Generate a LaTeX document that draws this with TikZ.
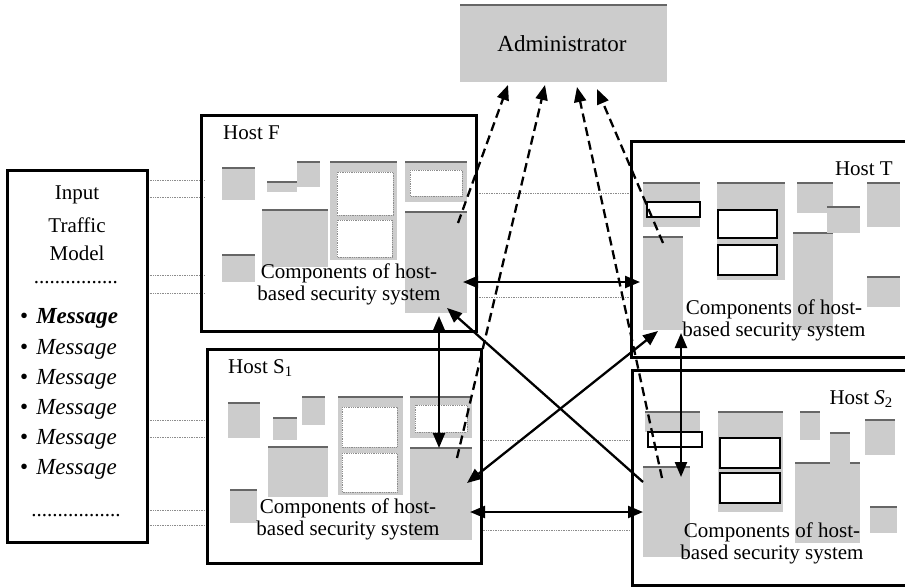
\documentclass[tikz,border=0pt]{standalone}
\usepackage{fontspec}
\setmainfont{Liberation Serif}
\usetikzlibrary{arrows.meta}
\tikzset{
  hostbox/.style={draw=black, line width=3pt, fill=none},
  blk/.style={fill=black!20},
  blktop/.style={draw=black!60, line width=1.2pt},
  win/.style={fill=white, draw=black!45, line width=0.8pt, densely dotted},
  bwin/.style={fill=white, draw=black, line width=2.4pt},
  link/.style={line width=2.3pt, -{Triangle[length=15pt,width=12pt]}},
  dlink/.style={line width=2.3pt, {Triangle[length=15pt,width=12pt]}-{Triangle[length=15pt,width=12pt]}},
  dashlink/.style={line width=2.3pt, dash pattern=on 9pt off 5pt, -{Triangle[length=15pt,width=12pt]}},
  faint/.style={draw=black!45, line width=0.7pt, densely dotted},
  lbl/.style={inner sep=0pt, font=\fontsize{21}{22}\selectfont},
  comp/.style={inner sep=0pt, align=center, font=\fontsize{21}{22}\selectfont},
  msg/.style={inner sep=0pt, anchor=west, font=\fontsize{23}{24}\selectfont}
}
\begin{document}
\begin{tikzpicture}[x=1pt,y=-1pt]
\clip (0,0) rectangle (905,587);
\fill[white] (0,0) rectangle (905,587);

% faint dotted scan lines
\foreach \yy in {180,197,275,293,420,437,510,525} {\draw[faint] (148,\yy) -- (205,\yy);}
\foreach \yy in {193,297} {\draw[faint] (477,\yy) -- (631,\yy);}
\foreach \yy in {440,530} {\draw[faint] (481,\yy) -- (632,\yy);}

% Administrator
\fill[blk] (460,5) rectangle (667,82);
\draw[blktop] (460,5) -- (667,5);
\node[inner sep=0pt, font=\fontsize{23}{24}\selectfont] (admin) at (562,44) {Administrator};

% grey component blocks
\foreach \a/\b/\c/\d in {
  222/168/255/200, 267/182/297/192, 297/162/320/187, 262/210/328/267,
  330/162/397/260, 405/162/467/202, 405/212/467/313, 222/255/255/282,
  228/403/260/438, 273/418/297/440, 302/397/325/425, 268/447/328/497,
  338/397/403/495, 410/397/472/438, 410/448/472/540, 230/490/257/523,
  643/183/700/227, 643/237/683/330, 717/183/785/280, 793/233/833/330,
  797/183/833/213, 827/207/860/233, 867/183/900/227, 867/277/900/307,
  645/412/700/432, 643/467/690/557, 718/412/783/512, 795/463/860/543,
  800/412/820/440, 830/433/850/467, 865/420/895/455, 870/507/897/533}
{\fill[blk] (\a,\b) rectangle (\c,\d); \draw[blktop] (\a,\b) -- (\c,\b);}

% windows
\foreach \a/\b/\c/\d in {337/172/393/215, 337/220/392/257, 410/170/462/196,
  342/407/397/447, 342/453/397/492, 415/405/467/432}
{\draw[win] (\a,\b) rectangle (\c,\d);}
\foreach \a/\b/\c/\d in {647/202/700/217, 718/210/777/238, 718/245/777/275,
  648/432/702/447, 720/438/780/468, 720/473/780/503}
{\draw[bwin] (\a,\b) rectangle (\c,\d);}

% Input traffic model
\node[hostbox, minimum width=140pt, minimum height=372pt, inner sep=0pt] (input) at (77,356) {};
\node[lbl] (inA) at (77,195) {Input};
\node[lbl] (inB) at (77,225) {Traffic};
\node[lbl] (inC) at (77,253) {Model};
\node[lbl] (dotA) at (76,283) {................};
\node[msg] (m1) at (20,318) {\textbullet\hspace{8pt}\textbf{\textit{Message}}};
\node[msg] (m2) at (20,349) {\textbullet\hspace{8pt}\textit{Message}};
\node[msg] (m3) at (20,379) {\textbullet\hspace{8pt}\textit{Message}};
\node[msg] (m4) at (20,409) {\textbullet\hspace{8pt}\textit{Message}};
\node[msg] (m5) at (20,439) {\textbullet\hspace{8pt}\textit{Message}};
\node[msg] (m6) at (20,469) {\textbullet\hspace{8pt}\textit{Message}};
\node[lbl] (dotB) at (76,516) {.................};

% host boxes
\node[hostbox, minimum width=275pt, minimum height=216pt, inner sep=0pt] (F) at (338.5,223) {};
\node[hostbox, minimum width=274pt, minimum height=214pt, inner sep=0pt] (S1) at (344,456) {};
\node[hostbox, minimum width=284pt, minimum height=216pt, inner sep=0pt] (T) at (773,249) {};
\node[hostbox, minimum width=284pt, minimum height=215pt, inner sep=0pt] (S2) at (774,477.5) {};

\node[lbl, anchor=west] (hF) at (223,133) {Host F};
\node[lbl, anchor=west] (hS1) at (228,368) {Host S\textsubscript{1}};
\node[lbl, anchor=east] (hT) at (893,169) {Host T};
\node[lbl, anchor=east] (hS2) at (893,399) {Host \textit{S}\textsubscript{2}};

\node[comp] (cF) at (349,284) {Components of host-\\based security system};
\node[comp] (cS1) at (348,519) {Components of host-\\based security system};
\node[comp] (cT) at (774,320) {Components of host-\\based security system};
\node[comp] (cS2) at (772,543) {Components of host-\\based security system};

% connector end points
\coordinate (fR) at (463,282);  \coordinate (tL) at (640,282);
\coordinate (fB) at (439,316);  \coordinate (s1T) at (439,448);
\coordinate (tB) at (681,333);  \coordinate (s2T) at (681,477);
\coordinate (s1R) at (470,512); \coordinate (s2L) at (643,512);
\coordinate (s1D) at (467,483); \coordinate (tD) at (658,331);
\coordinate (s2D) at (643,482); \coordinate (fD) at (447,308);
\coordinate (fA) at (458,223);  \coordinate (aA) at (508,85);
\coordinate (s1A) at (457,458); \coordinate (aB) at (545,85);
\coordinate (s2A) at (662,478); \coordinate (aC) at (577,87);
\coordinate (tA) at (663,243);  \coordinate (aD) at (597,89);

\draw[dlink] (fR) -- (tL);
\draw[dlink] (fB) -- (s1T);
\draw[dlink] (tB) -- (s2T);
\draw[dlink] (s1R) -- (s2L);
\draw[dlink] (s1D) -- (tD);
\draw[link] (s2D) -- (fD);

\draw[dashlink] (fA) -- (aA);
\draw[dashlink] (s1A) -- (aB);
\draw[dashlink] (s2A) -- (aC);
\draw[dashlink] (tA) -- (aD);
\end{tikzpicture}
\end{document}
